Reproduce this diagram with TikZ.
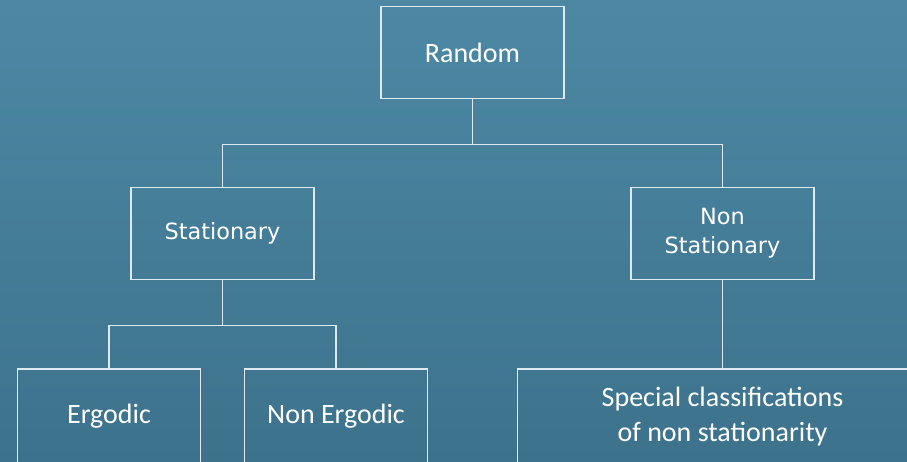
\documentclass[tikz,border=0pt]{standalone}
\usepackage{fontspec}
\setmainfont{Carlito}
\newfontfamily\dejavu{DejaVu Sans}
\definecolor{bgtop}{RGB}{76,136,164}
\definecolor{bgbottom}{RGB}{61,114,140}
\definecolor{linecol}{RGB}{222,234,240}

\begin{document}
\begin{tikzpicture}
	[
	x=1pt, y=1pt,
	box/.style={draw=linecol, line width=1.2pt, text=white, minimum width=183pt, minimum height=92pt, align=center, font=\fontsize{28}{35}\selectfont},
	wide/.style={font=\dejavu\fontsize{22.4}{29}\selectfont},
	every node/.style={box},
	level distance=181pt,
	level 1/.style={sibling distance=500pt},
	level 2/.style={sibling distance=227pt, level distance=183pt, every node/.append style={minimum height=95pt}},
	edge from parent/.style={draw=linecol, line width=1.2pt},
	edge from parent path={(\tikzparentnode.south) -- ++(0,-45) -| (\tikzchildnode.north)},
	]
	\shade[top color=bgtop, bottom color=bgbottom] (0,0) rectangle (907,-461);
	\useasboundingbox (0,0) rectangle (907,-461);
	\clip (0,0) rectangle (907,-461);
	    \node (random) at (472.5,-52.5) {Random}
		child {node[wide] (stat) {Stationary}
                child {node (ergodic) {Ergodic}}
                child {node (nonergodic) {Non Ergodic}}
        }
		child {node[wide] (nonstat) {Non\\Stationary}
                child {node[minimum width=410pt] (special) {Special classifications\\of non stationarity}}
		};
\end{tikzpicture}
\end{document}
